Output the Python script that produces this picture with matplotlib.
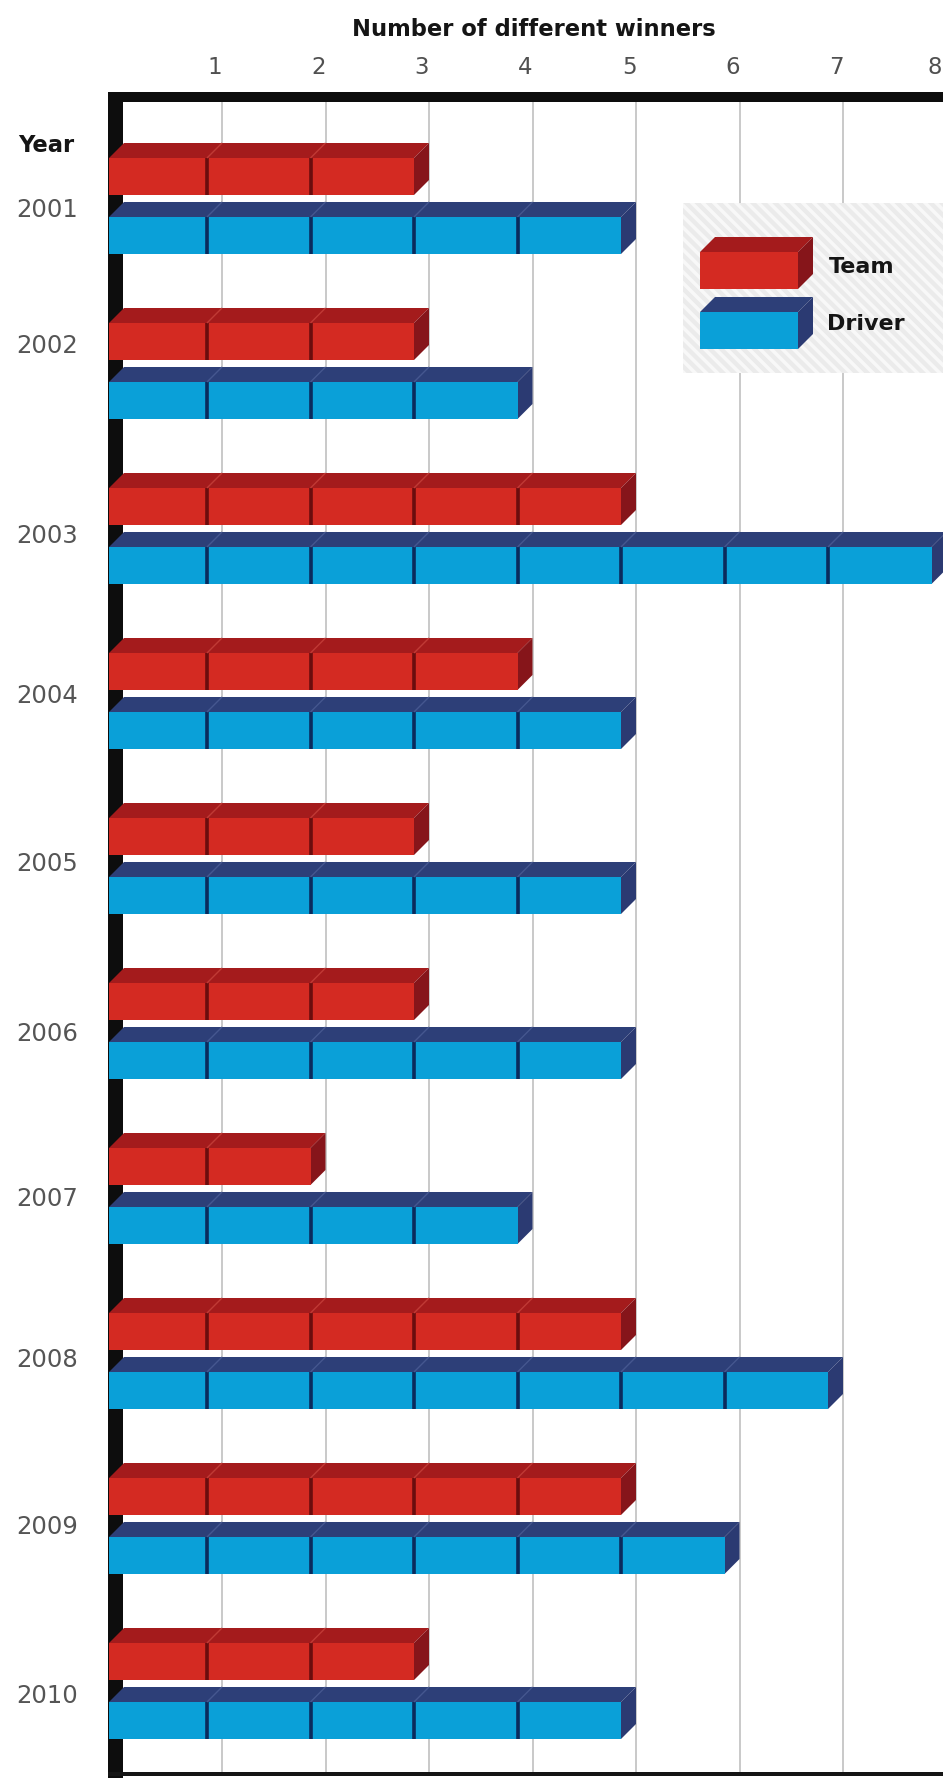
import matplotlib
matplotlib.use("Agg")
import matplotlib.pyplot as plt
from matplotlib.patches import Polygon, Rectangle

# ---------------- data ----------------
years = ["2001", "2002", "2003", "2004", "2005", "2006", "2007", "2008", "2009", "2010"]
team_winners = [3, 3, 5, 4, 3, 3, 2, 5, 5, 3]
driver_winners = [5, 4, 8, 5, 5, 5, 4, 7, 6, 5]
x_ticks = [1, 2, 3, 4, 5, 6, 7, 8]
x_tick_labels = ["1", "2", "3", "4", "5", "6", "7", "8"]
series_names = ["Team", "Driver"]
title_text = "Number of different winners"
year_header = "Year"

# ---------------- layout (pixels) ----------------
W, H_FIG = 943, 1778
X0, UNIT = 118.5, 103.5          # pixel of value 0, pixels per unit
DEPTH = 15                       # 3D depth in px
FRONT_H = 37                     # front face height in px
ROW0, PITCH, PAIR = 143, 165, 59
LABEL_DY = [67, 38, 63, 58, 61, 66, 66, 62, 64, 68]

RED = dict(front="#d42a22", top="#a41b1c", side="#86151a", div="#6a0d0e", topdiv="#c03a35")
BLUE = dict(front="#0aa0d8", top="#2d3f78", side="#2b3a72", div="#0b2a5c", topdiv="#45578f")


def px2x(p):
    return (p - X0) / UNIT


fig = plt.figure(figsize=(W / 100, H_FIG / 100), dpi=100)
ax = fig.add_axes([0, 0, 1, 1])
ax.set_xlim(px2x(0), px2x(W))
ax.set_ylim(H_FIG, 0)
ax.axis("off")

D = DEPTH / UNIT


def box(xfl, xfr, y_bt, c, dividers=(), z=4):
    xr = xfr + D
    xbl = xfl + D
    y_ft = y_bt + DEPTH
    y_fb = y_ft + FRONT_H
    ax.add_patch(Polygon([(xfl, y_ft), (xfr, y_ft), (xr, y_bt), (xbl, y_bt)],
                         closed=True, fc=c["top"], ec="none", zorder=z))
    ax.add_patch(Polygon([(xfr, y_ft), (xr, y_bt), (xr, y_bt + FRONT_H), (xfr, y_fb)],
                         closed=True, fc=c["side"], ec="none", zorder=z))
    ax.add_patch(Rectangle((xfl, y_ft), xfr - xfl, FRONT_H, fc=c["front"], ec="none", zorder=z))
    for k in dividers:
        ax.plot([k - D, k - D], [y_ft, y_fb], color=c["div"], lw=2.6,
                solid_capstyle="butt", zorder=z + 0.1)
        ax.plot([k - D, k], [y_ft, y_bt], color=c["topdiv"], lw=1.0,
                solid_capstyle="butt", zorder=z + 0.1)


# gridlines
ax.vlines(x_ticks, 102, 1773, color="#c9c9c9", lw=1.4, zorder=1)

# tick labels (slightly left of the gridlines as in the original)
x_right_limit = px2x(W - 1)
for k, lab in zip(x_ticks, x_tick_labels):
    xpos = k - 7 / UNIT
    if xpos + 6 / UNIT > x_right_limit:
        ax.text(x_right_limit, 67, lab, ha="right", va="center", fontsize=16.5,
                color="#505050", zorder=6)
    else:
        ax.text(xpos, 67, lab, ha="center", va="center", fontsize=16.5,
                color="#505050", zorder=6)

# title
ax.text(px2x(534), 29, title_text, ha="center", va="center", fontsize=16.3,
        fontweight="bold", color="#151515", zorder=6)

# frame: top bar, left bar, bottom line
ax.add_patch(Rectangle((px2x(108), 92), px2x(W + 5) - px2x(108), 10, fc="#0d0d0d", ec="none", zorder=5))
ax.add_patch(Rectangle((px2x(108), 92), 15 / UNIT, H_FIG - 92, fc="#0d0d0d", ec="none", zorder=3))
ax.add_patch(Rectangle((px2x(108), 1772), px2x(W + 5) - px2x(108), 4, fc="#151515", ec="none", zorder=3))

# legend panel
plt.rcParams["hatch.linewidth"] = 2.5
ax.add_patch(Rectangle((px2x(683), 203), px2x(W + 5) - px2x(683), 170,
                       fc="#ebebeb", ec="#f8f8f8", hatch="\\\\\\", lw=0, zorder=2))

# bars
x_front_left = px2x(109)
for i, (yr, t, d) in enumerate(zip(years, team_winners, driver_winners)):
    y_red = ROW0 + PITCH * i
    y_blue = y_red + PAIR
    box(x_front_left, t - D, y_red, RED, dividers=range(1, t))
    box(x_front_left, d - D, y_blue, BLUE, dividers=range(1, d))
    ax.text(px2x(16), y_red + LABEL_DY[i], yr, ha="left", va="center", fontsize=17.5,
            color="#555555", zorder=6)

ax.text(px2x(18), 146, year_header, ha="left", va="center", fontsize=16.3,
        fontweight="bold", color="#151515", zorder=6)

# legend entries
box(px2x(700), px2x(798), 237, RED, z=4)
box(px2x(700), px2x(798), 297, BLUE, z=4)
ax.text(px2x(829), 267, series_names[0], ha="left", va="center", fontsize=16,
        fontweight="bold", color="#151515", zorder=6)
ax.text(px2x(827), 324, series_names[1], ha="left", va="center", fontsize=16,
        fontweight="bold", color="#151515", zorder=6)

fig.savefig("out.png", dpi=100)
